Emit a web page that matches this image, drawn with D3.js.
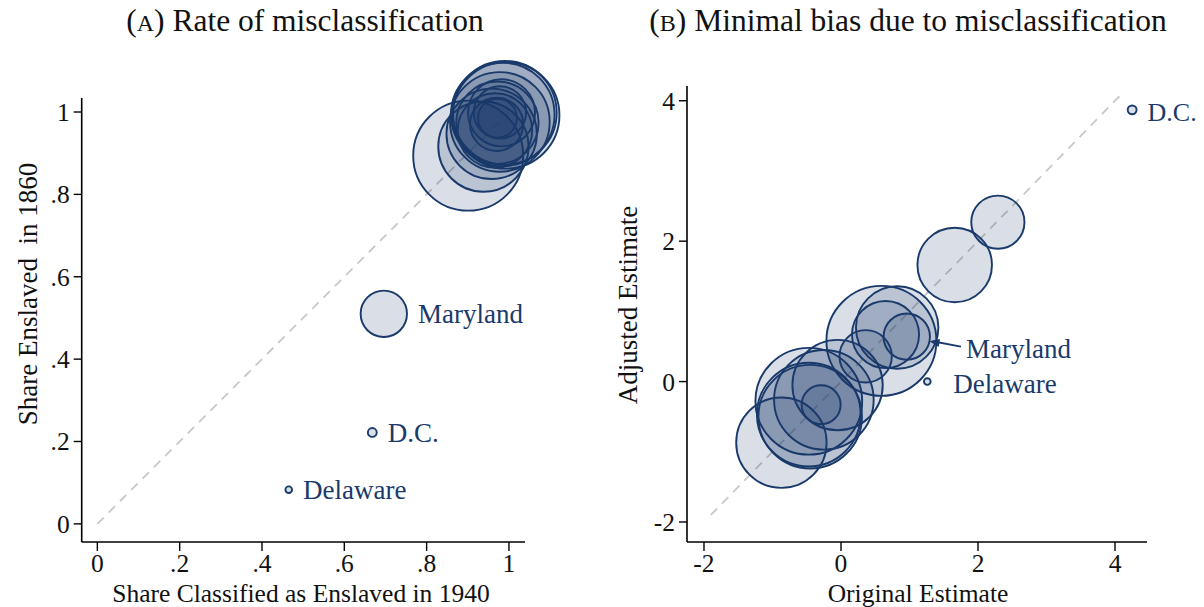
<!DOCTYPE html>
<html>
<head>
<meta charset="utf-8">
<script src="https://cdn.jsdelivr.net/npm/d3@7"></script>
<style>
  html, body { margin: 0; padding: 0; background: #fff; }
  svg text { font-family: "Liberation Serif", "Times New Roman", serif; white-space: pre; }
</style>
</head>
<body>
<svg id="chart" width="1204" height="607"></svg>
<script>
// States with slavery in 1860 (plus D.C.)
const states = ["Virginia", "Georgia", "Mississippi", "Alabama", "South Carolina",
  "Louisiana", "North Carolina", "Tennessee", "Kentucky", "Texas", "Missouri",
  "Arkansas", "Maryland", "Florida", "D.C.", "Delaware"];
// Enslaved population in 1860, thousands (bubble weight)
const enslaved1860 = [490.9, 462.2, 436.6, 435.1, 402.4, 331.7, 331.1, 275.7,
  225.5, 182.6, 114.9, 111.1, 87.2, 61.7, 3.2, 1.8];
// Panel A: share enslaved in 1860 vs share classified as enslaved in 1940
const shareEnslaved1860 = [0.894, 0.992, 0.998, 0.994, 0.976, 0.947, 0.916, 0.974,
  0.955, 0.998, 0.970, 0.999, 0.510, 0.985, 0.222, 0.083];
const shareClassified1940 = [0.901, 0.993, 0.990, 0.985, 0.978, 0.958, 0.938, 0.972,
  0.966, 0.982, 0.970, 0.978, 0.696, 0.972, 0.668, 0.465];
// Panel B: original vs adjusted estimate
const originalEstimate = [0.59, -0.47, -0.47, -0.45, -0.25, -0.87, -0.05, 0.82,
  1.66, 0.65, 2.29, 0.36, 0.96, -0.29, 4.25, 1.26];
const adjustedEstimate = [0.58, -0.28, -0.47, -0.50, -0.26, -0.87, -0.05, 0.77,
  1.66, 0.67, 2.27, 0.36, 0.64, -0.33, 3.87, 0.00];
// Labelled markers
const labelledA = ["Maryland", "D.C.", "Delaware"];
const labelledB = ["D.C.", "Maryland", "Delaware"];
// Tick values and labels
const ticksA = [0, 0.2, 0.4, 0.6, 0.8, 1];
const tickLabelsA = ["0", ".2", ".4", ".6", ".8", "1"];
const ticksB = [-2, 0, 2, 4];
const tickLabelsB = ["-2", "0", "2", "4"];

const navy = "#1a3a6b";
const ink = "#111";
const svg = d3.select("#chart");

const rScale = d3.scaleSqrt().domain([0, 490.9]).range([0, 55]);

const rows = states.map((s, i) => ({
  state: s, w: enslaved1860[i],
  ax: shareClassified1940[i], ay: shareEnslaved1860[i],
  bx: originalEstimate[i], by: adjustedEstimate[i]
}));

function drawAxes(g, x, y, ticks, labels, xLine, yLine) {
  // y axis
  g.append("line").attr("x1", xLine).attr("x2", xLine)
    .attr("y1", y.range()[1]).attr("y2", yLine)
    .attr("stroke", "#000").attr("stroke-width", 1.6);
  // x axis
  g.append("line").attr("x1", xLine).attr("x2", x.range()[1])
    .attr("y1", yLine).attr("y2", yLine)
    .attr("stroke", "#000").attr("stroke-width", 1.6);
  ticks.forEach((t, i) => {
    g.append("line").attr("x1", xLine - 8).attr("x2", xLine)
      .attr("y1", y(t)).attr("y2", y(t)).attr("stroke", "#000").attr("stroke-width", 1.4);
    g.append("text").attr("x", xLine - 12).attr("y", y(t)).attr("dy", "0.35em")
      .attr("text-anchor", "end").attr("font-size", 25.5).attr("fill", ink).text(labels[i]);
    g.append("line").attr("x1", x(t)).attr("x2", x(t))
      .attr("y1", yLine).attr("y2", yLine + 9).attr("stroke", "#000").attr("stroke-width", 1.4);
    g.append("text").attr("x", x(t)).attr("y", yLine + 30)
      .attr("text-anchor", "middle").attr("font-size", 25.5).attr("fill", ink).text(labels[i]);
  });
}

function drawBubbles(g, data, xf, yf) {
  g.selectAll("circle.b").data(data).enter().append("circle")
    .attr("class", "b")
    .attr("cx", xf).attr("cy", yf)
    .attr("r", d => Math.max(rScale(d.w), 3.2))
    .attr("fill", navy).attr("fill-opacity", 0.16)
    .attr("stroke", navy).attr("stroke-width", 1.9);
}

// ---------- Panel A ----------
const xA = d3.scaleLinear().domain([-0.038, 1.039]).range([81.7, 525]);
const yA = d3.scaleLinear().domain([-0.044, 1.034]).range([542, 98]);
const gA = svg.append("g");

gA.append("line")
  .attr("x1", xA(0)).attr("y1", yA(0)).attr("x2", xA(1)).attr("y2", yA(1))
  .attr("stroke", "#c8c8c8").attr("stroke-width", 1.8).attr("stroke-dasharray", "9,7");

drawBubbles(gA, rows, d => xA(d.ax), d => yA(d.ay));
drawAxes(gA, xA, yA, ticksA, tickLabelsA, 81.7, 542);

rows.filter(d => labelledA.includes(d.state)).forEach(d => {
  const r = Math.max(rScale(d.w), 3.2);
  gA.append("text").attr("x", xA(d.ax) + r + 11).attr("y", yA(d.ay)).attr("dy", "0.35em")
    .attr("font-size", 27).attr("fill", navy).text(d.state);
});

const titleA = gA.append("text").attr("x", 305).attr("y", 31)
  .attr("text-anchor", "middle").attr("font-size", 31.5).attr("fill", ink);
titleA.append("tspan").text("(");
titleA.append("tspan").attr("font-size", 24).text("A");
titleA.append("tspan").text(") Rate of misclassification");

gA.append("text").attr("x", 301).attr("y", 601.5).attr("text-anchor", "middle")
  .attr("font-size", 25.5).attr("fill", ink).text("Share Classified as Enslaved in 1940");
gA.append("text").attr("transform", "translate(37,294) rotate(-90)")
  .attr("text-anchor", "middle").attr("font-size", 27).attr("fill", ink)
  .text("Share Enslaved  in 1860");

// ---------- Panel B ----------
const xB = d3.scaleLinear().domain([-2.248, 4.467]).range([687, 1147]);
const yB = d3.scaleLinear().domain([-2.285, 4.21]).range([542, 86]);
const gB = svg.append("g");

gB.append("line")
  .attr("x1", xB(-1.9)).attr("y1", yB(-1.9)).attr("x2", xB(4.1)).attr("y2", yB(4.1))
  .attr("stroke", "#c8c8c8").attr("stroke-width", 1.8).attr("stroke-dasharray", "9,7");

drawBubbles(gB, rows, d => xB(d.bx), d => yB(d.by));
drawAxes(gB, xB, yB, ticksB, tickLabelsB, 687, 542);

rows.filter(d => labelledB.includes(d.state)).forEach(d => {
  const r = Math.max(rScale(d.w), 3.2);
  const cx = xB(d.bx), cy = yB(d.by);
  if (d.state === "Maryland") {
    // label pulled out to the right with a pointer back to the bubble
    const lx = cx + r + 36, ly = cy + 12;
    const ang = Math.atan2(ly - cy, lx - cx);
    const tx = cx + r * Math.cos(ang), ty = cy + r * Math.sin(ang);
    gB.append("line").attr("x1", lx - 5).attr("y1", ly - 2).attr("x2", tx + 3).attr("y2", ty)
      .attr("stroke", navy).attr("stroke-width", 1.8);
    const a = Math.atan2(ly - 2 - ty, lx - 5 - tx);
    const L = 10, W = 4;
    const p1 = [tx + L * Math.cos(a) - W * Math.sin(a), ty + L * Math.sin(a) + W * Math.cos(a)];
    const p2 = [tx + L * Math.cos(a) + W * Math.sin(a), ty + L * Math.sin(a) - W * Math.cos(a)];
    gB.append("path").attr("d", d3.line()([[tx, ty], p1, p2]) + "Z").attr("fill", navy);
    gB.append("text").attr("x", lx).attr("y", ly).attr("dy", "0.35em")
      .attr("font-size", 27).attr("fill", navy).text(d.state);
  } else if (d.state === "Delaware") {
    gB.append("text").attr("x", cx + 26).attr("y", cy + 2).attr("dy", "0.35em")
      .attr("font-size", 27).attr("fill", navy).text(d.state);
  } else {
    gB.append("text").attr("x", cx + r + 11).attr("y", cy + 2).attr("dy", "0.35em")
      .attr("font-size", 26).attr("fill", navy).text(d.state);
  }
});

const titleB = gB.append("text").attr("x", 908).attr("y", 31)
  .attr("text-anchor", "middle").attr("font-size", 31.5).attr("fill", ink);
titleB.append("tspan").text("(");
titleB.append("tspan").attr("font-size", 24).text("B");
titleB.append("tspan").text(") Minimal bias due to misclassification");

gB.append("text").attr("x", 918).attr("y", 601.5).attr("text-anchor", "middle")
  .attr("font-size", 25.5).attr("fill", ink).text("Original Estimate");
gB.append("text").attr("transform", "translate(637,305) rotate(-90)")
  .attr("text-anchor", "middle").attr("font-size", 27).attr("fill", ink)
  .text("Adjusted Estimate");
</script>
</body>
</html>
